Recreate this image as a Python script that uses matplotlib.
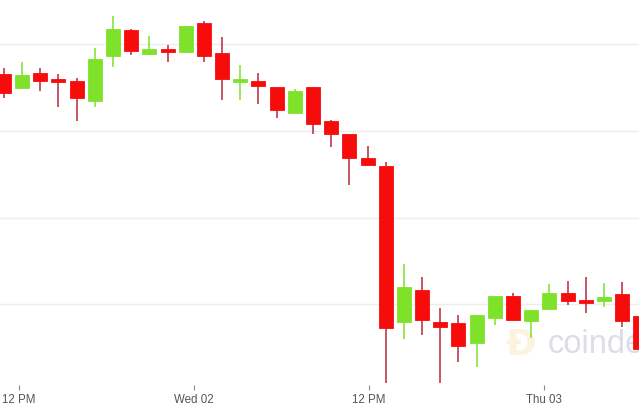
import numpy as np
import matplotlib
matplotlib.use("Agg")
import matplotlib.pyplot as plt
from matplotlib.patches import Rectangle

# hourly-ish candles (USD)
opens = [11566, 11549, 11567, 11559, 11558, 11535, 11586, 11616, 11589, 11595,
         11591, 11625, 11590, 11557, 11558, 11551, 11521, 11551, 11511, 11496,
         11469, 11459, 11280, 11316, 11280, 11278, 11256, 11284, 11310, 11281,
         11295, 11313, 11304, 11304, 11312, 11287]
highs = [11573, 11580, 11573, 11566, 11561, 11596, 11633, 11617, 11610, 11599,
         11621, 11627, 11608, 11576, 11567, 11551, 11548, 11551, 11513, 11496,
         11483, 11464, 11347, 11332, 11296, 11288, 11288, 11310, 11313, 11294,
         11323, 11327, 11331, 11325, 11326, 11291]
lows = [11538, 11548, 11546, 11528, 11511, 11528, 11574, 11588, 11588, 11579,
        11590, 11579, 11536, 11536, 11531, 11515, 11521, 11496, 11481, 11438,
        11461, 11209, 11260, 11265, 11209, 11234, 11228, 11276, 11282, 11261,
        11295, 11299, 11290, 11297, 11274, 11242]
closes = [11544, 11565, 11558, 11557, 11538, 11583, 11618, 11592, 11595, 11591,
          11621, 11586, 11560, 11560, 11552, 11524, 11546, 11508, 11497, 11469,
          11461, 11273, 11320, 11282, 11274, 11252, 11288, 11310, 11282, 11294,
          11313, 11304, 11302, 11309, 11281, 11248]

# hours since Tue 01 00:00
start_hour = 11.0
step_hours = 1.245
tick_hours = [12, 24, 36, 48]
tick_labels = ["12 PM", "Wed 02", "12 PM", "Thu 03"]
grid_levels = [11300, 11400, 11500, 11600]

UP = "#7fe22a"
DOWN = "#f70c0c"
DOWN_WICK = "#b8283a"

fig = plt.figure(figsize=(6.39, 4.12), dpi=100)
ax = fig.add_axes([0, 27 / 412, 1, 385 / 412])

times = start_hour + step_hours * np.arange(len(opens))
body_w = 0.96
for t, o, h, l, c in zip(times, opens, highs, lows, closes):
    up = c > o
    col = UP if up else DOWN
    wick = UP if up else DOWN_WICK
    ax.vlines(t, l, h, color=wick, lw=1.1, zorder=2)
    lo, hi = min(o, c), max(o, c)
    ax.add_patch(Rectangle((t - body_w / 2, lo), body_w, max(hi - lo, 2.5),
                           facecolor=col, edgecolor=col, lw=0.6, zorder=3))

for g in grid_levels:
    ax.axhline(g, color="#ededed", lw=1.0, zorder=0)

# faint watermark, partly hidden behind the last candle like the original
ax.text(548 / 639, (385 - 353) / 385, "coindesk", transform=ax.transAxes,
        fontsize=23.5, color="#dcdde5", family="Liberation Sans",
        va="baseline", ha="left", zorder=1)
ax.text(505 / 639, (385 - 355) / 385, "Ð", transform=ax.transAxes,
        fontsize=26, color="#fcf3df", fontweight="bold",
        va="baseline", ha="left", zorder=1)

ax.set_xlim(10.73, 54.49)
ax.set_ylim(11207, 11651)
ax.set_xticks(tick_hours)
ax.set_xticklabels(tick_labels, family="Liberation Sans", fontsize=8.3, color="#555555")
ax.tick_params(axis="x", length=3.5, width=0.8, color="#888888", pad=3)
ax.set_yticks([])
for s in ax.spines.values():
    s.set_visible(False)

fig.savefig("out.png", dpi=100)
